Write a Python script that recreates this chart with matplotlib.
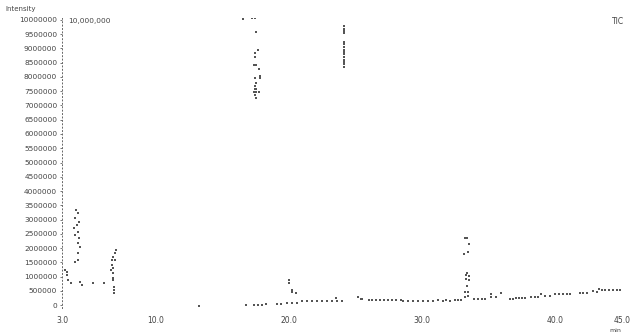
import matplotlib

matplotlib.use("Agg")
import matplotlib.pyplot as plt  # noqa: E402
import numpy as np  # noqa: E402

# retention time (min) and intensity (millions)
rt_early = [3.22, 3.37, 3.37, 3.45, 3.67, 4.34, 4.49, 5.31, 6.13]
int_early = [1.23, 1.16, 1.05, 0.88, 0.77, 0.81, 0.70, 0.77, 0.77]

rt_peak1 = [4.04, 4.19, 3.97, 4.27, 4.12, 3.90, 4.19, 3.97, 4.27, 4.19, 4.34, 4.19, 4.19, 3.97]
int_peak1 = [3.33, 3.23, 3.05, 2.91, 2.81, 2.70, 2.56, 2.46, 2.35, 2.18, 2.04, 1.82, 1.58, 1.51]

rt_peak2 = [7.03, 6.96, 6.81, 6.73, 6.96, 6.73, 6.81, 6.66, 6.81, 6.81, 6.81, 6.88, 6.88, 6.88]
int_peak2 = [1.93, 1.82, 1.68, 1.58, 1.58, 1.40, 1.30, 1.23, 1.12, 0.95, 0.88, 0.63, 0.53, 0.42]

rt_big = [16.58, 17.25, 17.48, 17.55, 17.70, 17.48, 17.48, 17.40, 17.55, 17.78, 17.85,
          17.48, 17.85, 17.55, 17.48, 17.48, 17.55, 17.40, 17.55, 17.78, 17.48, 17.55]
int_big = [10.05, 10.07, 10.07, 9.58, 8.95, 8.84, 8.70, 8.42, 8.42, 8.28, 8.04,
           7.96, 7.96, 7.79, 7.68, 7.58, 7.58, 7.47, 7.47, 7.47, 7.37, 7.26]

rt_small = [20.01, 20.01, 20.24, 20.24, 20.54]
int_small = [0.88, 0.77, 0.53, 0.46, 0.42]

rt_marker = [24.12] * 15
int_marker = [9.79, 9.70, 9.61, 9.53, 9.23, 9.14, 9.05, 8.96, 8.88, 8.79, 8.70, 8.61, 8.53, 8.44, 8.35]

rt_peak3 = [33.22, 33.37, 33.52, 33.15, 33.45, 33.37, 33.30, 33.52, 33.30, 33.52, 33.37, 33.22, 33.45]
int_peak3 = [2.35, 2.35, 2.14, 1.79, 1.86, 1.12, 1.05, 1.02, 0.91, 0.88, 0.67, 0.46, 0.46]

rt_base = [13.30, 16.81, 17.40, 17.70, 18.00, 18.30, 19.12, 19.42, 19.87, 20.24, 20.61,
           20.99, 21.36, 21.73, 22.10, 22.48, 22.85, 23.22, 23.60, 23.97, 23.52,
           25.16, 25.39, 25.46, 25.99, 26.28, 26.58, 26.88, 27.18, 27.48, 27.78, 28.07, 28.45,
           28.60, 28.97, 29.34, 29.72, 30.09, 30.46, 30.84, 31.21, 31.58, 31.81, 32.10,
           32.48, 32.70, 32.93, 33.22, 33.45, 33.90,
           34.19, 34.49, 34.72, 35.16, 35.16, 35.54, 35.91, 36.58, 36.81,
           37.03, 37.25, 37.48, 37.70, 38.15, 38.45, 38.67, 38.90, 39.19, 39.57,
           39.94, 40.24, 40.54, 40.84, 41.13, 41.81, 42.10, 42.40, 42.85, 43.15,
           43.30, 43.52, 43.75, 44.04, 44.34, 44.64, 44.87]
int_base = [-0.05, 0.0, 0.0, 0.0, 0.0, 0.04, 0.04, 0.04, 0.07, 0.07, 0.07,
            0.14, 0.14, 0.14, 0.14, 0.14, 0.14, 0.14, 0.14, 0.14, 0.25,
            0.28, 0.21, 0.21, 0.18, 0.18, 0.18, 0.18, 0.18, 0.18, 0.18, 0.18, 0.18,
            0.14, 0.14, 0.14, 0.14, 0.14, 0.14, 0.14, 0.18, 0.14, 0.18, 0.14,
            0.18, 0.18, 0.18, 0.28, 0.32, 0.21,
            0.21, 0.21, 0.21, 0.39, 0.28, 0.28, 0.42, 0.21, 0.21,
            0.25, 0.25, 0.25, 0.25, 0.28, 0.28, 0.28, 0.39, 0.32, 0.32,
            0.39, 0.39, 0.39, 0.39, 0.39, 0.42, 0.42, 0.42, 0.49, 0.46,
            0.56, 0.53, 0.53, 0.53, 0.53, 0.53, 0.53]

x_ticks = [3, 10, 20, 30, 40, 45]
x_labels = ["3.0", "10.0", "20.0", "30.0", "40.0", "45.0"]
y_ticks = np.arange(0, 10_000_001, 500_000)

fig = plt.figure(figsize=(6.4, 3.33), dpi=100)
ax = fig.add_axes([0.097, 0.075, 0.875, 0.871])

groups = [(rt_early, int_early), (rt_peak1, int_peak1), (rt_peak2, int_peak2),
          (rt_big, int_big), (rt_small, int_small), (rt_marker, int_marker),
          (rt_peak3, int_peak3), (rt_base, int_base)]
for rt, inten in groups:
    ax.scatter(rt, np.array(inten) * 1e6, s=0.9, marker="s", color="#555", lw=0)

ax.set_xlim(3, 45)
ax.set_ylim(-105_000, 10_070_000)
ax.set_xticks(x_ticks, x_labels)
ax.set_yticks(y_ticks, [str(int(v)) for v in y_ticks])
ax.tick_params(axis="x", length=0, pad=6, labelsize=5.5, colors="#444")
ax.tick_params(axis="y", length=1.5, width=0.5, pad=2, labelsize=5.3, colors="#444")
for side in ("top", "right", "bottom"):
    ax.spines[side].set_visible(False)
ax.spines["left"].set_linestyle((0, (1, 2.5)))
ax.spines["left"].set_linewidth(0.7)
ax.spines["left"].set_color("#666")

fig.text(5 / 640, 1 - 9 / 333, "Intensity", fontsize=5, va="center", color="#444")
fig.text(68 / 640, 1 - 21 / 333, "10,000,000", fontsize=5.3, va="center", color="#444")
fig.text(612 / 640, 1 - 22 / 333, "TIC", fontsize=5.5, va="center", color="#444")
fig.text(615 / 640, 1 - 330 / 333, "min", fontsize=4.5, ha="center", va="center", color="#444")

fig.savefig("out.png", dpi=100)
